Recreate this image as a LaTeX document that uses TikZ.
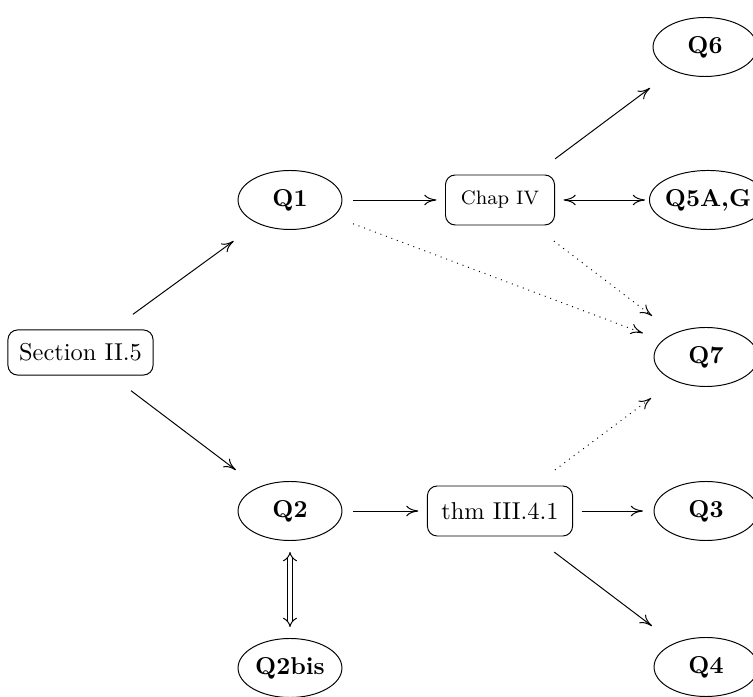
\documentclass[tikz,border=0pt]{standalone}
\usetikzlibrary{arrows.meta,shapes.geometric}
\begin{document}
\begin{tikzpicture}[x=0.41pt,y=-0.41pt,
  >={Computer Modern Rightarrow[length=5pt,width=4.4pt]},
  qn/.style={rectangle, inner sep=0pt, outer sep=0pt, minimum width=51.7pt, minimum height=33.6pt, font=\bfseries,
    label={[draw, ellipse, inner sep=0pt, minimum width=#1, minimum height=24.2pt]center:{}}},
  qn/.default=42.6pt,
  bx/.style={draw, rounded corners=4pt, inner sep=0pt, minimum height=20.5pt, outer xsep=3.7pt, outer ysep=6.6pt},
]
\useasboundingbox (0,0) rectangle (753,697);
\node[bx, minimum width=59.5pt, minimum height=18.5pt, outer ysep=6.4pt] (sec) at (80.5,352.5) {Section II.5};
\node[qn] (q1) at (290,200) {Q1};
\node[qn] (q2) at (290,511) {Q2};
\node[qn] (q2b) at (290,668) {Q2bis};
\node[bx, minimum width=44.7pt, font=\footnotesize] (chap) at (500,200) {Chap IV};
\node[bx, minimum width=59.5pt] (thm) at (500,511) {thm III.4.1};
\node[qn] (q6) at (705,47) {Q6};
\node[qn=48pt] (q5) at (708,200) {Q5A,G};
\node[qn] (q7) at (706,357) {Q7};
\node[qn] (q3) at (706,511) {Q3};
\node[qn] (q4) at (706,667) {Q4};

\draw[->] (sec) -- (q1);
\draw[->] (sec) -- (q2);
\draw[->] (q1) -- (chap);
\draw[<->] (chap) -- (q5);
\draw[->] (chap) -- (q6);
\draw[->,dotted] (chap) -- (q7);
\draw[->,dotted] (q1) -- (q7);
\draw[->] (q2) -- (thm);
\draw[->] (thm) -- (q3);
\draw[->] (thm) -- (q4);
\draw[->,dotted] (thm) -- (q7);
\draw[double, double distance=1.6pt, {Implies}-{Implies}] (q2) -- (q2b);
\end{tikzpicture}
\end{document}
